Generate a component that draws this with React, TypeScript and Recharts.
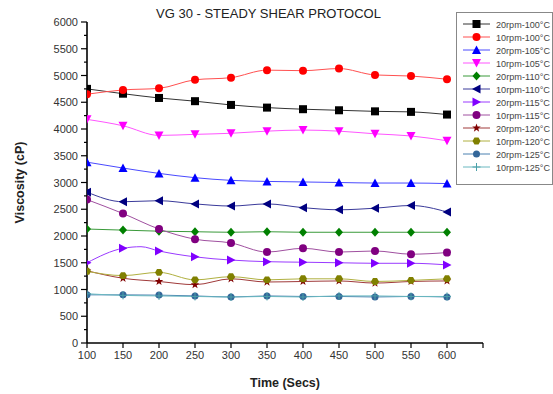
import React from "react";
import { Label, Line, LineChart, XAxis, YAxis } from "recharts";

const TIMES = [100, 150, 200, 250, 300, 350, 400, 450, 500, 550, 600];

const SERIES_NAMES = [
  "20rpm-100°C",
  "10rpm-100°C",
  "20rpm-105°C",
  "10rpm-105°C",
  "20rpm-110°C",
  "10rpm-110°C",
  "20rpm-115°C",
  "10rpm-115°C",
  "20rpm-120°C",
  "10rpm-120°C",
  "20rpm-125°C",
  "10rpm-125°C",
];

const S20_100 = [4750, 4660, 4580, 4520, 4450, 4400, 4370, 4350, 4330, 4320, 4270];
const S10_100 = [4650, 4730, 4760, 4920, 4960, 5100, 5090, 5130, 5010, 4990, 4930];
const S20_105 = [3380, 3270, 3170, 3090, 3040, 3020, 3010, 3000, 2990, 2990, 2980];
const S10_105 = [4180, 4060, 3880, 3900, 3920, 3960, 3980, 3960, 3910, 3870, 3780];
const S20_110 = [2130, 2110, 2090, 2080, 2070, 2080, 2070, 2070, 2070, 2070, 2070];
const S10_110 = [2820, 2640, 2660, 2600, 2560, 2600, 2530, 2490, 2520, 2570, 2450];
const S20_115 = [1500, 1770, 1720, 1610, 1550, 1520, 1510, 1500, 1490, 1490, 1460];
const S10_115 = [2680, 2420, 2130, 1940, 1870, 1700, 1770, 1700, 1720, 1660, 1690];
const S20_120 = [1350, 1210, 1150, 1090, 1200, 1140, 1150, 1160, 1120, 1150, 1160];
const S10_120 = [1340, 1260, 1320, 1180, 1240, 1180, 1200, 1200, 1150, 1170, 1200];
const S20_125 = [900, 900, 895, 880, 860, 880, 870, 870, 860, 870, 860];
const S10_125 = [920, 890, 880, 870, 860, 870, 860, 880, 880, 870, 870];

// the 20rpm-115 curve peaks between markers
const PEAK_20_115 = { time: 175, value: 1800 };

const X_TICKS = [100, 150, 200, 250, 300, 350, 400, 450, 500, 550, 600, 650];
const Y_TICKS = [0, 250, 500, 750, 1000, 1250, 1500, 1750, 2000, 2250, 2500, 2750, 3000, 3250, 3500, 3750, 4000, 4250, 4500, 4750, 5000, 5250, 5500, 5750, 6000];

type Shape =
  | "square"
  | "circle"
  | "up"
  | "down"
  | "diamond"
  | "left"
  | "right"
  | "star"
  | "hexagon"
  | "smallCircle"
  | "plus";

const STYLES: { shape: Shape; color: string; line: string }[] = [
  { shape: "square", color: "#000000", line: "#333333" },
  { shape: "circle", color: "#ff0000", line: "#ff5050" },
  { shape: "up", color: "#0000ff", line: "#4a4aff" },
  { shape: "down", color: "#ff00ff", line: "#ff55ff" },
  { shape: "diamond", color: "#008000", line: "#3a9a3a" },
  { shape: "left", color: "#000080", line: "#3a3a9a" },
  { shape: "right", color: "#8000ff", line: "#9a3aff" },
  { shape: "circle", color: "#800080", line: "#a050a0" },
  { shape: "star", color: "#800000", line: "#a03a3a" },
  { shape: "hexagon", color: "#808000", line: "#b0b040" },
  { shape: "smallCircle", color: "#336699", line: "#4a80b0" },
  { shape: "plus", color: "#4aa0a8", line: "#6ab8c0" },
];

const ALL_SERIES = [
  S20_100, S10_100, S20_105, S10_105, S20_110, S10_110,
  S20_115, S10_115, S20_120, S10_120, S20_125, S10_125,
];

const rows: Record<string, number | null>[] = TIMES.map((t, i) => {
  const row: Record<string, number | null> = { time: t };
  ALL_SERIES.forEach((s, k) => {
    row[`s${k}`] = s[i];
  });
  return row;
});
{
  const peak: Record<string, number | null> = { time: PEAK_20_115.time };
  ALL_SERIES.forEach((_, k) => {
    peak[`s${k}`] = k === 6 ? PEAK_20_115.value : null;
  });
  rows.splice(2, 0, peak);
}

function Marker({ shape, color, cx, cy }: { shape: Shape; color: string; cx: number; cy: number }) {
  const r = 4;
  switch (shape) {
    case "square":
      return <rect x={cx - r} y={cy - r} width={2 * r} height={2 * r} fill={color} />;
    case "circle":
      return <circle cx={cx} cy={cy} r={r} fill={color} />;
    case "smallCircle":
      return <circle cx={cx} cy={cy} r={3.5} fill={color} />;
    case "up":
      return <polygon points={`${cx},${cy - r - 0.5} ${cx + r + 0.5},${cy + r} ${cx - r - 0.5},${cy + r}`} fill={color} />;
    case "down":
      return <polygon points={`${cx},${cy + r + 0.5} ${cx + r + 0.5},${cy - r} ${cx - r - 0.5},${cy - r}`} fill={color} />;
    case "left":
      return <polygon points={`${cx - r - 0.5},${cy} ${cx + r},${cy - r - 0.5} ${cx + r},${cy + r + 0.5}`} fill={color} />;
    case "right":
      return <polygon points={`${cx + r + 0.5},${cy} ${cx - r},${cy - r - 0.5} ${cx - r},${cy + r + 0.5}`} fill={color} />;
    case "diamond":
      return <polygon points={`${cx},${cy - r - 0.5} ${cx + r},${cy} ${cx},${cy + r + 0.5} ${cx - r},${cy}`} fill={color} />;
    case "hexagon": {
      const pts = [0, 1, 2, 3, 4, 5]
        .map((i) => {
          const a = (Math.PI / 3) * i;
          return `${cx + r * Math.cos(a)},${cy + r * Math.sin(a)}`;
        })
        .join(" ");
      return <polygon points={pts} fill={color} />;
    }
    case "star": {
      const pts: string[] = [];
      for (let i = 0; i < 10; i++) {
        const a = -Math.PI / 2 + (Math.PI / 5) * i;
        const rr = i % 2 === 0 ? r + 0.5 : r * 0.45;
        pts.push(`${cx + rr * Math.cos(a)},${cy + rr * Math.sin(a)}`);
      }
      return <polygon points={pts.join(" ")} fill={color} />;
    }
    case "plus":
      return (
        <g stroke={color} strokeWidth={1}>
          <line x1={cx - r} y1={cy} x2={cx + r} y2={cy} />
          <line x1={cx} y1={cy - r} x2={cx} y2={cy + r} />
        </g>
      );
  }
  return null;
}

const font = "'Liberation Sans', Arial, sans-serif";

function YTick(props: any) {
  const { x, y, payload } = props;
  const major = payload.value % 500 === 0;
  return (
    <g>
      <line x1={x + 8 - (major ? 6 : 3)} y1={y} x2={x + 8} y2={y} stroke="#000" strokeWidth={1.2} />
      {major && (
        <text x={x - 1} y={y + 4} textAnchor="end" fontSize={11} fill="#333" fontFamily={font}>
          {payload.value}
        </text>
      )}
    </g>
  );
}

function XTick(props: any) {
  const { x, y, payload } = props;
  return (
    <g>
      <line x1={x} y1={y - 8} x2={x} y2={y - 3} stroke="#000" strokeWidth={1.2} />
      {payload.value <= 600 && (
        <text x={x} y={y + 8} textAnchor="middle" fontSize={11} fill="#333" fontFamily={font}>
          {payload.value}
        </text>
      )}
    </g>
  );
}

function LegendBox() {
  return (
    <div
      style={{
        position: "absolute",
        left: 456,
        top: 12,
        border: "1px solid #888",
        background: "#fff",
        width: 97,
        height: 173,
        boxSizing: "border-box",
        zIndex: 3,
      }}
    >
      <svg width={96} height={171} style={{ display: "block" }}>
        {SERIES_NAMES.map((name, i) => {
          const st = STYLES[i];
          const y = 11 + i * 13;
          return (
            <g key={name}>
              <line x1={6} y1={y} x2={33} y2={y} stroke={st.line} strokeWidth={1} />
              <Marker shape={st.shape} color={st.color} cx={19.5} cy={y} />
              <text
                x={39}
                y={y + 3.5}
                fontSize={9.5}
                fill="#444"
                fontFamily={font}
                textLength={54}
                lengthAdjust="spacingAndGlyphs"
              >
                {name}
              </text>
            </g>
          );
        })}
      </svg>
    </div>
  );
}

export default function App() {
  return (
    <div style={{ position: "absolute", left: 0, top: 0, width: 553, height: 394, background: "#fff" }}>
      <div
        style={{
          position: "absolute",
          left: 0,
          top: 6,
          width: 553,
          paddingRight: 16,
          boxSizing: "border-box",
          textAlign: "center",
          fontFamily: font,
          fontSize: 13,
          color: "#222",
          zIndex: 2,
        }}
      >
        VG 30 - STEADY SHEAR PROTOCOL
      </div>
      <LineChart width={553} height={394} data={rows} margin={{ top: 22, right: 70, left: 37, bottom: 21 }}>
        <XAxis
          dataKey="time"
          type="number"
          domain={[100, 650]}
          ticks={X_TICKS}
          allowDataOverflow
          height={30}
          tickLine={false}
          tick={<XTick />}
          axisLine={{ stroke: "#000", strokeWidth: 1.6 }}
        >
          <Label
            value="Time (Secs)"
            position="insideBottom"
            offset={-14}
            style={{ fontFamily: font, fontSize: 12.5, fontWeight: "bold", fill: "#222" }}
          />
        </XAxis>
        <YAxis
          type="number"
          domain={[0, 6000]}
          ticks={Y_TICKS}
          interval={0}
          width={50}
          tickLine={false}
          tick={<YTick />}
          axisLine={{ stroke: "#000", strokeWidth: 1.6 }}
        >
          <Label
            value="Viscosity (cP)"
            angle={-90}
            position="insideLeft"
            offset={-17}
            style={{ textAnchor: "middle", fontFamily: font, fontSize: 12.5, fontWeight: "bold", fill: "#222" }}
          />
        </YAxis>
        {SERIES_NAMES.map((name, k) => (
          <Line
            key={name}
            name={name}
            dataKey={`s${k}`}
            type="monotone"
            stroke={STYLES[k].line}
            strokeWidth={1}
            connectNulls
            isAnimationActive={false}
            activeDot={false}
            dot={(p: any) => {
              const t = p.payload?.time;
              if (p.value == null || t % 50 !== 0) return <g key={`d${k}-${p.index}`} />;
              return (
                <g key={`d${k}-${p.index}`}>
                  <Marker shape={STYLES[k].shape} color={STYLES[k].color} cx={p.cx} cy={p.cy} />
                </g>
              );
            }}
          />
        ))}
      </LineChart>
      <LegendBox />
    </div>
  );
}
